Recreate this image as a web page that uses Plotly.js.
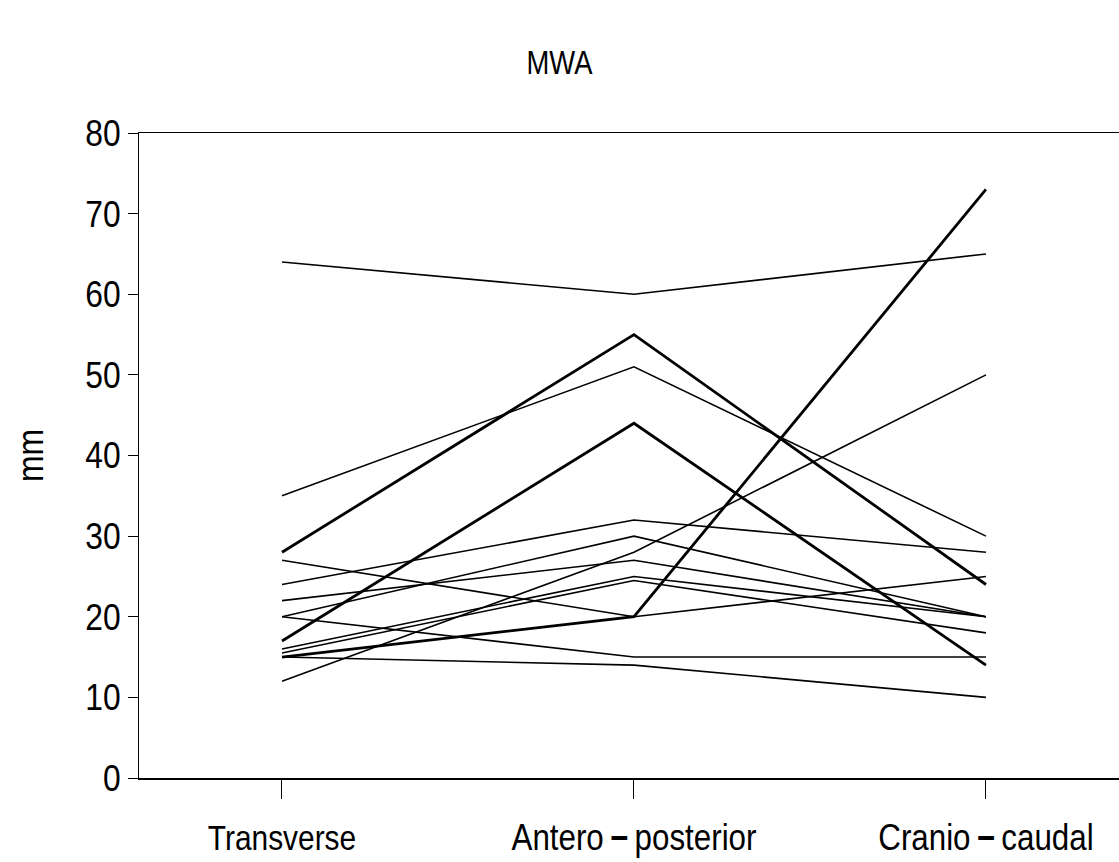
<!DOCTYPE html>
<html>
<head>
<meta charset="utf-8">
<script src="https://cdn.plot.ly/plotly-3.0.1.min.js"></script>
<style>html,body{margin:0;padding:0;background:#fff;}#chart{width:1119px;height:862px;}</style>
</head>
<body>
<div id="chart"></div>
<script>
var categories = ["Transverse", "Antero\u2009<b>\u2212</b>\u2009posterior", "Cranio\u2009<b>\u2212</b>\u2009caudal"];
var yTicks = [0, 10, 20, 30, 40, 50, 60, 70, 80];

var s01 = [64, 60, 65];
var s02 = [35, 51, 30];
var s03 = [28, 55, 24];
var s04 = [17, 44, 14];
var s05 = [15, 20, 73];
var s06 = [27, 20, 25];
var s07 = [20, 15, 15];
var s08 = [15, 14, 10];
var s09 = [12, 28, 50];
var s10 = [24, 32, 28];
var s11 = [20, 30, 20];
var s12 = [22, 27, 20];
var s13 = [16, 25, 20];
var s14 = [15.5, 24.5, 18];

var series = [s01, s02, s03, s04, s05, s06, s07, s08, s09, s10, s11, s12, s13, s14];
var thick = [false, false, true, true, true, false, false, false, false, false, false, false, false, false];

var xIdx = categories.map(function (c, i) { return i; });

var traces = series.map(function (vals, k) {
  return {
    type: "scatter",
    mode: "lines",
    x: xIdx,
    y: vals,
    line: { color: "#000", width: thick[k] ? 2.8 : 1.6 },
    hoverinfo: "skip",
    showlegend: false
  };
});

var FONT = "Liberation Sans, Arial, Helvetica, sans-serif";

var layout = {
  width: 1119,
  height: 862,
  margin: { l: 139, r: 0, t: 133, b: 84 },
  paper_bgcolor: "#fff",
  plot_bgcolor: "#fff",
  showlegend: false,
  title: {
    text: "MWA",
    font: { family: FONT, size: 33, color: "#000" },
    x: 0.5, xanchor: "center", xref: "container",
    y: 0.928, yanchor: "middle", yref: "container"
  },
  xaxis: {
    range: [-0.40625, 2.378],
    tickvals: xIdx,
    ticktext: categories,
    showgrid: false,
    zeroline: false,
    showline: true,
    mirror: true,
    linecolor: "#000",
    linewidth: 1.5,
    ticks: "outside",
    ticklen: 19,
    tickwidth: 1,
    tickcolor: "#000",
    ticklabelstandoff: 8,
    tickfont: { family: FONT, size: 36, color: "#000" },
    fixedrange: true
  },
  yaxis: {
    range: [0, 80],
    tickvals: yTicks,
    ticktext: yTicks.map(String),
    showgrid: false,
    zeroline: false,
    showline: true,
    linecolor: "#000",
    linewidth: 1,
    ticks: "outside",
    ticklen: 10,
    tickwidth: 1,
    tickcolor: "#000",
    tickfont: { family: FONT, size: 37, color: "#000" },
    title: { text: "mm", font: { family: FONT, size: 37, color: "#000" }, standoff: 24 },
    fixedrange: true
  }
};

// Narrow the text horizontally (the reference uses a condensed sans face)
function condenseNode(t, k, anchor) {
  var bb = t.getBBox();
  if (!bb || bb.width <= 0) return;
  var cx = anchor === "end" ? bb.x + bb.width : (anchor === "start" ? bb.x : bb.x + bb.width / 2);
  var prev = t.getAttribute("transform") || "";
  t.setAttribute("transform", (prev + " translate(" + cx.toFixed(2) + ",0) scale(" + k + ",1) translate(" + (-cx).toFixed(2) + ",0)").trim());
}
function condense(selector, k, anchor) {
  document.querySelectorAll(selector).forEach(function (t) { condenseNode(t, k, anchor); });
}

Plotly.newPlot("chart", traces, layout, { displayModeBar: false, staticPlot: true }).then(function () {
  document.querySelectorAll(".xtick text").forEach(function (t) {
    var hasDash = t.textContent.indexOf("\u2212") >= 0;
    condenseNode(t, hasDash ? 0.87 : 0.83, "middle");
  });
  condense(".ytick text", 0.86, "end");
  condense(".g-gtitle text", 0.83, "middle");
  condense(".g-ytitle text", 0.86, "middle");
});
</script>
</body>
</html>
